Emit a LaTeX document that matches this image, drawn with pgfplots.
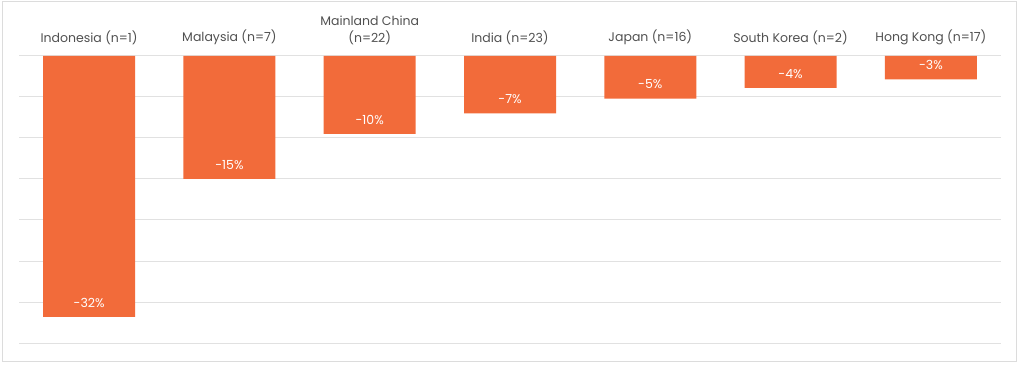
\documentclass[border=0pt]{standalone}
\usepackage{pgfplots}
\pgfplotsset{compat=1.18}
\usepackage{fontspec}
\setmainfont{Poppins}
\definecolor{barorange}{RGB}{242,107,58}
\definecolor{labgray}{RGB}{80,80,80}
\definecolor{gridgray}{RGB}{225,225,225}
\definecolor{framegray}{RGB}{220,220,220}
\begin{document}
\begin{tikzpicture}[x=1bp,y=1bp]
\path[use as bounding box] (0,0) rectangle (1024,366);
\draw[framegray, line width=1bp] (2,5) rectangle (1016,364);
\begin{axis}[
  at={(19bp,23bp)}, anchor=south west,
  scale only axis,
  width=982bp, height=287bp,
  xmin=-0.5, xmax=6.5,
  ymin=-35, ymax=0,
  axis line style={draw=none},
  ytick={-35,-30,...,0},
  yticklabels={},
  ymajorgrids,
  grid style={gridgray, line width=1bp},
  xtick={0,...,6},
  xticklabels={Indonesia (n=1),Malaysia (n=7),{Mainland China\\(n=22)},India (n=23),Japan (n=16),South Korea (n=2),Hong Kong (n=17)},
  xticklabel pos=upper,
  major tick length=0pt,
  tick style={draw=none},
  xticklabel style={anchor=south, align=center, text=labgray, font=\fontsize{12.5bp}{16.5bp}\selectfont, yshift=8bp},
  ybar, bar width=92bp,
  point meta=explicit,
  nodes near coords={\pgfmathprintnumber[assume math mode=true, fixed, precision=0]{\pgfplotspointmeta}\%},
  nodes near coords style={anchor=south, text=white, font=\fontsize{12.5bp}{15bp}\selectfont, yshift=6bp},
  clip=false,
]
\addplot[fill=barorange, draw=none] coordinates {(0,-31.8) [-32] (1,-15) [-15] (2,-9.5) [-10] (3,-7) [-7] (4,-5.2) [-5] (5,-3.9) [-4] (6,-2.85) [-3]};
\end{axis}
\end{tikzpicture}
\end{document}
